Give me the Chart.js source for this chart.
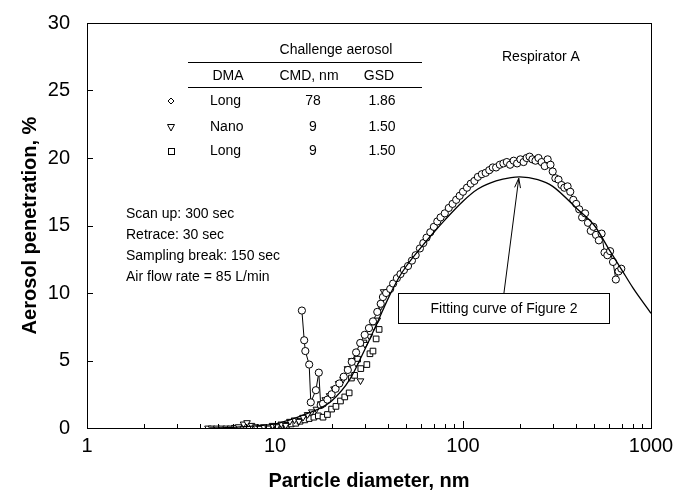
<!DOCTYPE html>
<html>
<head>
<meta charset="utf-8">
<script src="https://cdn.jsdelivr.net/npm/chart.js@4.4.1/dist/chart.umd.min.js"></script>
<style>
  html, body { margin: 0; padding: 0; background: #fff; }
  #wrap { width: 674px; height: 494px; }
</style>
</head>
<body>
<div id="wrap"><canvas id="chart" width="674" height="494"></canvas></div>
<script>
// Long DMA, CMD 78 nm (circles)
var longLargeD = [13.9, 14.3, 14.5, 15.2, 15.5, 16.5, 17.1, 17.5,
  18.0, 19.0, 20.0, 21.0, 22.0, 23.2, 24.4, 25.6, 27.0, 28.4, 30.0, 31.6, 33.2, 35.0, 36.5,
  37.5, 39, 41, 42.5, 44.5, 46.5, 48.5, 51, 53.5, 56, 59, 61.5, 64, 67, 70, 73, 76, 80, 84, 88, 92, 96,
  100, 105, 110, 115, 120, 126, 132, 138, 144, 150, 157, 164, 171, 178, 186, 194, 202, 210, 218, 226,
  234, 243, 252, 262, 272, 282, 292, 300, 310, 322, 334, 346, 360, 372, 386, 400, 415, 430, 446, 462,
  478, 494, 510, 528, 546, 566, 586, 606, 628, 650, 672, 695];
var longLargeP = [8.7, 6.5, 5.7, 4.7, 1.9, 2.8, 4.1, 1.7,
  1.8, 2.1, 2.5, 2.9, 3.3, 3.8, 4.3, 4.9, 5.6, 6.3, 6.9, 7.4, 7.9, 8.6, 9.2,
  9.7, 10.0, 10.3, 10.7, 11.1, 11.4, 11.7, 12.0, 12.4, 12.8, 13.3, 13.7, 14.1, 14.5, 14.9, 15.3, 15.6, 15.9, 16.3, 16.6, 16.9, 17.2,
  17.5, 17.8, 18.1, 18.3, 18.6, 18.8, 18.9, 19.1, 19.3, 19.3, 19.5, 19.6, 19.7, 19.5, 19.8, 19.6, 19.9, 19.7, 20.0, 20.1,
  19.9, 19.8, 20.0, 19.7, 19.4, 19.9, 19.5, 19.0, 18.5, 18.4, 18.0, 17.8, 17.9, 17.5, 16.9, 16.6, 16.2, 15.6, 15.9, 15.2,
  14.6, 14.9, 14.3, 13.9, 14.4, 13.0, 12.8, 13.1, 12.3, 11.0, 11.6, 11.8];

// Nano DMA, CMD 9 nm (down triangles)
var nanoD = [4.4, 4.6, 4.9, 5.2, 5.5, 5.8, 6.1, 6.4, 6.8, 7.1, 7.5, 7.9, 8.3, 8.7, 9.2, 9.7, 10.2, 10.8, 11.4,
  12.0, 12.7, 13.4, 14.1, 14.9, 15.7, 16.6, 17.5, 18.5, 19.5, 20.6, 21.8, 23.0, 24.3, 25.6, 27.0, 28.5,
  30.1, 31.8, 33.5, 35.0, 36.5, 37.8];
var nanoP = [0.0, 0.0, 0.0, 0.0, 0.0, 0.0, 0.05, 0.1, 0.3, 0.4, 0.2, 0.1, 0.0, 0.1, 0.0, 0.2, 0.1, 0.3, 0.2,
  0.5, 0.6, 0.5, 0.8, 1.0, 1.2, 1.4, 1.8, 2.1, 2.4, 2.9, 3.3, 3.6, 4.4, 5.0, 4.8, 3.5,
  6.2, 6.8, 7.5, 8.0, 9.0, 10.1];

// Long DMA, CMD 9 nm (squares)
var longSmallD = [10.3, 10.9, 11.5, 12.2, 12.9, 13.6, 14.4, 15.2, 16.1, 17.0, 18.0, 19.0, 20.0, 21.1, 22.3,
  23.5, 24.8, 25.5, 26.5, 27.5, 28.6, 29.7, 30.8, 32.0, 33.2, 34.5, 35.8];
var longSmallP = [0.1, 0.2, 0.2, 0.3, 0.35, 0.5, 0.6, 0.7, 0.8, 0.9, 0.8, 1.0, 1.4, 1.6, 2.0,
  2.3, 2.6, 3.7, 3.9, 5.1, 4.4, 6.3, 4.7, 5.5, 5.7, 6.6, 7.3];

// fitting curve of Figure 2
var fitD = [4.5, 6, 8, 10, 12, 15, 17, 20, 25, 30, 35, 40, 45, 50, 60, 70, 80, 100, 120, 150, 180, 200,
  250, 300, 400, 500, 600, 700, 800, 1000];
var fitP = [0.0, 0.05, 0.15, 0.3, 0.6, 1.1, 1.4, 2.0, 3.6, 5.8, 7.8, 9.6, 11.0, 12.0, 13.4, 14.5, 15.4, 16.8, 17.7, 18.3, 18.55, 18.6,
  18.4, 17.9, 16.3, 15.0, 13.2, 11.7, 10.4, 8.5];

var xTickLabels = [1, 10, 100, 1000];
var yTickLabels = [0, 5, 10, 15, 20, 25, 30];

var FONT = '"Liberation Sans", Arial, sans-serif';

function pairs(xs, ys) {
  return xs.map(function (x, i) { return { x: x, y: ys[i] }; });
}

// frame, inward ticks, table and notes
var decorPlugin = {
  id: 'decor',
  afterDraw: function (chart) {
    var ctx = chart.ctx;
    var xs = chart.scales.x, ys = chart.scales.y;
    var a = chart.chartArea;
    ctx.save();
    ctx.strokeStyle = '#000';
    ctx.lineWidth = 1;
    ctx.strokeRect(Math.round(a.left) + 0.5, Math.round(a.top) + 0.5, Math.round(a.right - a.left), Math.round(a.bottom - a.top));

    // x ticks (decades long, minors short)
    ctx.beginPath();
    for (var dec = 1; dec < 1000; dec *= 10) {
      for (var m = 1; m <= 10; m++) {
        var px = Math.round(xs.getPixelForValue(dec * m)) + 0.5;
        var len = (m === 1 || m === 10) ? 7 : 4;
        ctx.moveTo(px, a.bottom);
        ctx.lineTo(px, a.bottom - len);
      }
    }
    yTickLabels.forEach(function (v) {
      var py = Math.round(ys.getPixelForValue(v)) + 0.5;
      ctx.moveTo(a.left, py);
      ctx.lineTo(a.left + 6, py);
    });
    ctx.stroke();

    // table
    ctx.fillStyle = '#000';
    ctx.font = '14px ' + FONT;
    ctx.textBaseline = 'middle';
    ctx.textAlign = 'center';
    ctx.fillText('Challenge aerosol', 336, 50);
    ctx.beginPath();
    ctx.moveTo(188, 62.5); ctx.lineTo(422, 62.5);
    ctx.moveTo(188, 87.5); ctx.lineTo(422, 87.5);
    ctx.stroke();
    ctx.fillText('DMA', 228, 76);
    ctx.fillText('CMD, nm', 309, 76);
    ctx.fillText('GSD', 379, 76);
    var rows = [['Long', '78', '1.86', 101], ['Nano', '9', '1.50', 127], ['Long', '9', '1.50', 151]];
    rows.forEach(function (r) {
      ctx.textAlign = 'left';
      ctx.fillText(r[0], 210, r[3]);
      ctx.textAlign = 'center';
      ctx.fillText(r[1], 313, r[3]);
      ctx.fillText(r[2], 382, r[3]);
    });
    // table symbols
    ctx.beginPath();
    ctx.moveTo(171, 98); ctx.lineTo(174, 101); ctx.lineTo(171, 104); ctx.lineTo(168, 101); ctx.closePath();
    ctx.stroke();
    ctx.beginPath();
    ctx.moveTo(167.5, 124.5); ctx.lineTo(174.5, 124.5); ctx.lineTo(171, 131); ctx.closePath();
    ctx.stroke();
    ctx.strokeRect(168.5, 148.5, 6, 6);

    ctx.textAlign = 'left';
    ctx.fillText('Respirator A', 502, 57);
    ['Scan up: 300 sec', 'Retrace: 30 sec', 'Sampling break: 150 sec', 'Air flow rate = 85 L/min']
      .forEach(function (t, i) { ctx.fillText(t, 126, 214 + i * 21); });

    // annotation box + arrow to the fitted peak
    var bx0 = Math.round(xs.getPixelForValue(45)) + 0.5;
    var bx1 = Math.round(xs.getPixelForValue(600)) + 0.5;
    var by0 = Math.round(ys.getPixelForValue(10)) + 0.5;
    var by1 = Math.round(ys.getPixelForValue(7.8)) + 0.5;
    ctx.fillStyle = '#fff';
    ctx.fillRect(bx0, by0, bx1 - bx0, by1 - by0);
    ctx.strokeRect(bx0, by0, bx1 - bx0, by1 - by0);
    ctx.fillStyle = '#000';
    ctx.textAlign = 'center';
    ctx.fillText('Fitting curve of Figure 2', (bx0 + bx1) / 2, (by0 + by1) / 2 + 1);
    var sx = xs.getPixelForValue(165), sy = by0;
    var tx = xs.getPixelForValue(198), ty = ys.getPixelForValue(18.5);
    ctx.beginPath();
    ctx.moveTo(sx, sy); ctx.lineTo(tx, ty);
    var ang = Math.atan2(ty - sy, tx - sx);
    ctx.moveTo(tx - 10 * Math.cos(ang - 0.3), ty - 10 * Math.sin(ang - 0.3));
    ctx.lineTo(tx, ty);
    ctx.lineTo(tx - 10 * Math.cos(ang + 0.3), ty - 10 * Math.sin(ang + 0.3));
    ctx.stroke();
    ctx.restore();
  }
};

var ctx = document.getElementById('chart').getContext('2d');
new Chart(ctx, {
  type: 'scatter',
  data: {
    datasets: [
      {
        label: 'Long 78',
        data: pairs(longLargeD, longLargeP),
        showLine: true,
        borderColor: '#000',
        borderWidth: 1,
        pointStyle: 'circle',
        pointRadius: 3.6,
        pointBackgroundColor: '#fff',
        pointBorderColor: '#000',
        pointBorderWidth: 1,
        order: 1
      },
      {
        label: 'Nano 9',
        data: pairs(nanoD, nanoP),
        showLine: false,
        pointStyle: 'triangle',
        rotation: 180,
        pointRadius: 3.8,
        pointBackgroundColor: '#fff',
        pointBorderColor: '#000',
        pointBorderWidth: 1,
        order: 2
      },
      {
        label: 'Long 9',
        data: pairs(longSmallD, longSmallP),
        showLine: false,
        pointStyle: 'rect',
        pointRadius: 4,
        pointBackgroundColor: '#fff',
        pointBorderColor: '#000',
        pointBorderWidth: 1,
        order: 3
      },
      {
        label: 'Fit',
        data: pairs(fitD, fitP),
        showLine: true,
        borderColor: '#000',
        borderWidth: 1.3,
        pointRadius: 0,
        cubicInterpolationMode: 'monotone',
        order: 0
      }
    ]
  },
  options: {
    responsive: false,
    animation: false,
    devicePixelRatio: 1,
    layout: { padding: { top: 23, right: 23, left: 0, bottom: 0 } },
    plugins: { legend: { display: false }, tooltip: { enabled: false } },
    scales: {
      x: {
        type: 'logarithmic',
        min: 1,
        max: 1000,
        grid: { display: false, drawTicks: false },
        border: { display: false },
        afterFit: function (s) { s.height = 66; s.paddingLeft = 0; s.paddingRight = 0; },
        afterBuildTicks: function (s) {
          s.ticks = xTickLabels.map(function (v) { return { value: v }; });
        },
        ticks: {
          color: '#000',
          font: { family: FONT, size: 20 },
          padding: 6,
          maxRotation: 0,
          autoSkip: false,
          callback: function (v) { return String(v); }
        },
        title: {
          display: true,
          text: 'Particle diameter, nm',
          color: '#000',
          font: { family: FONT, size: 20, weight: 'bold' },
          padding: { top: 0, bottom: 1 }
        }
      },
      y: {
        min: 0,
        max: 30,
        grid: { display: false, drawTicks: false },
        border: { display: false },
        afterFit: function (s) { s.width = 87; s.paddingTop = 0; s.paddingBottom = 0; },
        afterBuildTicks: function (s) {
          s.ticks = yTickLabels.map(function (v) { return { value: v }; });
        },
        ticks: {
          color: '#000',
          font: { family: FONT, size: 20 },
          padding: 17
        },
        title: {
          display: true,
          text: 'Aerosol penetration, %',
          color: '#000',
          font: { family: FONT, size: 20, weight: 'bold' },
          padding: { top: 18, bottom: 0 }
        }
      }
    }
  },
  plugins: [decorPlugin]
});
</script>
</body>
</html>
